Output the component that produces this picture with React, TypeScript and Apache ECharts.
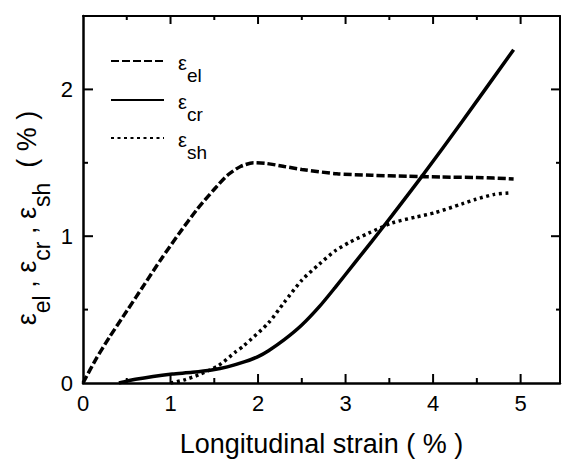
import React, { useEffect, useRef } from "react";
import * as echarts from "echarts";

// ε_el (elastic strain) — dashed
const elX = [0, 0.15, 0.3, 0.5, 0.7, 0.9, 1.1, 1.3, 1.5, 1.65, 1.8, 1.95, 2.1, 2.3, 2.5, 2.9, 3.3, 3.7, 4.1, 4.5, 4.92];
const elY = [0, 0.165, 0.31, 0.49, 0.67, 0.85, 1.02, 1.18, 1.32, 1.415, 1.475, 1.5, 1.495, 1.475, 1.455, 1.425, 1.415, 1.408, 1.403, 1.4, 1.39];

// ε_cr (creep strain) — solid
const crX = [0.41, 0.6, 0.8, 1.02, 1.25, 1.47, 1.65, 1.85, 2.0, 2.12, 2.3, 2.5, 2.7, 2.88, 3.1, 3.3, 3.53, 3.9, 4.33, 4.92];
const crY = [0, 0.025, 0.045, 0.061, 0.073, 0.089, 0.11, 0.145, 0.18, 0.22, 0.295, 0.395, 0.52, 0.65, 0.815, 0.965, 1.14, 1.43, 1.78, 2.27];

// ε_sh (shrinkage strain) — dotted
const shX = [1.0, 1.15, 1.32, 1.55, 1.74, 1.83, 2.12, 2.3, 2.5, 2.7, 2.88, 3.05, 3.26, 3.53, 3.8, 4.02, 4.33, 4.48, 4.7, 4.88];
const shY = [0, 0.02, 0.055, 0.12, 0.21, 0.25, 0.41, 0.55, 0.7, 0.81, 0.9, 0.96, 1.02, 1.09, 1.13, 1.16, 1.22, 1.25, 1.285, 1.295];

const seriesNames = ["el", "cr", "sh"];
const xTickLabels = ["0", "1", "2", "3", "4", "5"];
const yTickLabels = ["0", "1", "2"];
// tick positions (major = 1, minor = 0)
const xTickValues = [0.5, 1, 1.5, 2, 2.5, 3, 3.5, 4, 4.5, 5];
const xTickMajor = [0, 1, 0, 1, 0, 1, 0, 1, 0, 1];
const yTickValues = [0.5, 1, 1.5, 2];
const yTickMajor = [0, 1, 0, 1];
const xTitle = "Longitudinal strain ( % )";

export default function App() {
  const ref = useRef<HTMLDivElement>(null);

  useEffect(() => {
    const chart = echarts.init(ref.current as HTMLDivElement, null, { renderer: "svg" });
    const font = "Liberation Sans, Arial, Helvetica, sans-serif";
    const black = "#000000";
    const pair = (xs: number[], ys: number[]) => xs.map((x, i) => [x, ys[i]]);
    const isInt = (v: number) => Math.abs(v - Math.round(v)) < 1e-6;

    const xMin = 0, xMax = 5.45, yMin = 0, yMax = 2.5;
    const legendTops = [53, 92, 130];

    const line = (w = 2.5) => ({ show: true, onZero: false, lineStyle: { color: black, width: w } });

    const yTitle: any = {
      id: "ytitle",
      type: "text", x: 27, y: 218, rotation: Math.PI / 2,
      style: {
        text: "{e|ε}{s|el}{c| , }{e|ε}{s|cr}{c| , }{e|ε}{s|sh}{c|  ( % )}",
        align: "center", verticalAlign: "middle",
        fill: black, fontFamily: font, fontSize: 27,
        rich: {
          e: { fontSize: 27, fontFamily: font, fill: black, color: black },
          s: { fontSize: 23, fontFamily: font, fill: black, color: black, padding: [30, 0, 0, 0] },
          c: { fontSize: 27, fontFamily: font, fill: black, color: black },
        },
      },
    };

    const option: any = {
      animation: false,
      grid: { left: 83, right: 3, top: 16, bottom: 76, outerBoundsMode: "none" },
      xAxis: [
        {
          type: "value", position: "bottom", min: xMin, max: xMax, interval: 0.5, splitLine: { show: false },
          axisLine: line(), axisTick: { show: false },
          axisLabel: {
            show: true, margin: 9, color: black, fontFamily: font, fontSize: 22,
            formatter: (v: number) => (isInt(v) && xTickLabels[Math.round(v)] !== undefined ? xTickLabels[Math.round(v)] : ""),
          },
          name: xTitle, nameLocation: "middle", nameGap: 47,
          nameTextStyle: { color: black, fontFamily: font, fontSize: 27 },
        },
        {
          type: "value", position: "top", min: xMin, max: xMax, interval: 0.5, splitLine: { show: false },
          axisLine: line(2), axisTick: { show: false }, axisLabel: { show: false },
        },
      ],
      yAxis: [
        {
          type: "value", position: "left", min: yMin, max: yMax, interval: 0.5, splitLine: { show: false },
          axisLine: line(), axisTick: { show: false },
          axisLabel: {
            show: true, margin: 10, color: black, fontFamily: font, fontSize: 22,
            formatter: (v: number) => (isInt(v) && yTickLabels[Math.round(v)] !== undefined ? yTickLabels[Math.round(v)] : ""),
          },
        },
        {
          type: "value", position: "right", min: yMin, max: yMax, interval: 0.5, splitLine: { show: false },
          axisLine: line(2), axisTick: { show: false }, axisLabel: { show: false },
        },
      ],
      legend: seriesNames.map((n, i) => ({
        orient: "vertical", left: 110, top: legendTops[i], padding: 0,
        itemWidth: 53, itemHeight: 14,
        data: [n],
        formatter: (name: string) => `{e|ε}{s|${name}}`,
        itemStyle: { opacity: 0, color: "rgba(0,0,0,0)", borderWidth: 0 },
        textStyle: {
          color: black, fontFamily: font,
          rich: {
            e: { fontSize: 20, fontFamily: font, color: black, padding: [4, 0, 0, 9] },
            s: { fontSize: 19, fontFamily: font, color: black, padding: [29, 0, 0, 0] },
          },
        },
      })),
      graphic: { elements: [yTitle] },
      series: [
        {
          name: seriesNames[0], type: "line", data: pair(elX, elY), symbol: "none", smooth: 0.25,
          lineStyle: { color: black, width: 3.5, type: [8, 3] }, itemStyle: { color: black },
        },
        {
          name: seriesNames[1], type: "line", data: pair(crX, crY), symbol: "none", smooth: 0.25,
          lineStyle: { color: black, width: 3.5, type: "solid" }, itemStyle: { color: black },
        },
        {
          name: seriesNames[2], type: "line", data: pair(shX, shY), symbol: "none", smooth: 0.25,
          lineStyle: { color: black, width: 3.5, type: [3, 3.5] }, itemStyle: { color: black },
        },
      ],
    };

    chart.setOption(option);

    // Tick marks on all four sides, placed through the chart's own axis scales
    const toPx = (v: number[]) => chart.convertToPixel({ gridIndex: 0 } as any, v) as unknown as number[];
    const tickEls: any[] = [];
    xTickValues.forEach((v, i) => {
      const len = xTickMajor[i] ? 9 : 5;
      const b = toPx([v, yMin]);
      const t = toPx([v, yMax]);
      tickEls.push({ id: `xb${i}`, type: "rect", z: 100, silent: true, shape: { x: b[0] - 1, y: b[1] - len, width: 2, height: len }, style: { fill: black } });
      tickEls.push({ id: `xt${i}`, type: "rect", z: 100, silent: true, shape: { x: t[0] - 1, y: t[1], width: 2, height: len - 1 }, style: { fill: black } });
    });
    yTickValues.forEach((v, i) => {
      const len = yTickMajor[i] ? 10 : 5;
      const l = toPx([xMin, v]);
      const r = toPx([xMax, v]);
      tickEls.push({ id: `yl${i}`, type: "rect", z: 100, silent: true, shape: { x: l[0], y: l[1] - 1, width: len, height: 2 }, style: { fill: black } });
      tickEls.push({ id: `yr${i}`, type: "rect", z: 100, silent: true, shape: { x: r[0] - len + 1, y: r[1] - 1, width: len - 1, height: 2 }, style: { fill: black } });
    });
    chart.setOption({ graphic: { elements: [yTitle, ...tickEls] } });

    return () => chart.dispose();
  }, []);

  return (
    <div
      ref={ref}
      style={{ position: "fixed", left: 0, top: 0, width: 563, height: 459, background: "#fff" }}
    />
  );
}
